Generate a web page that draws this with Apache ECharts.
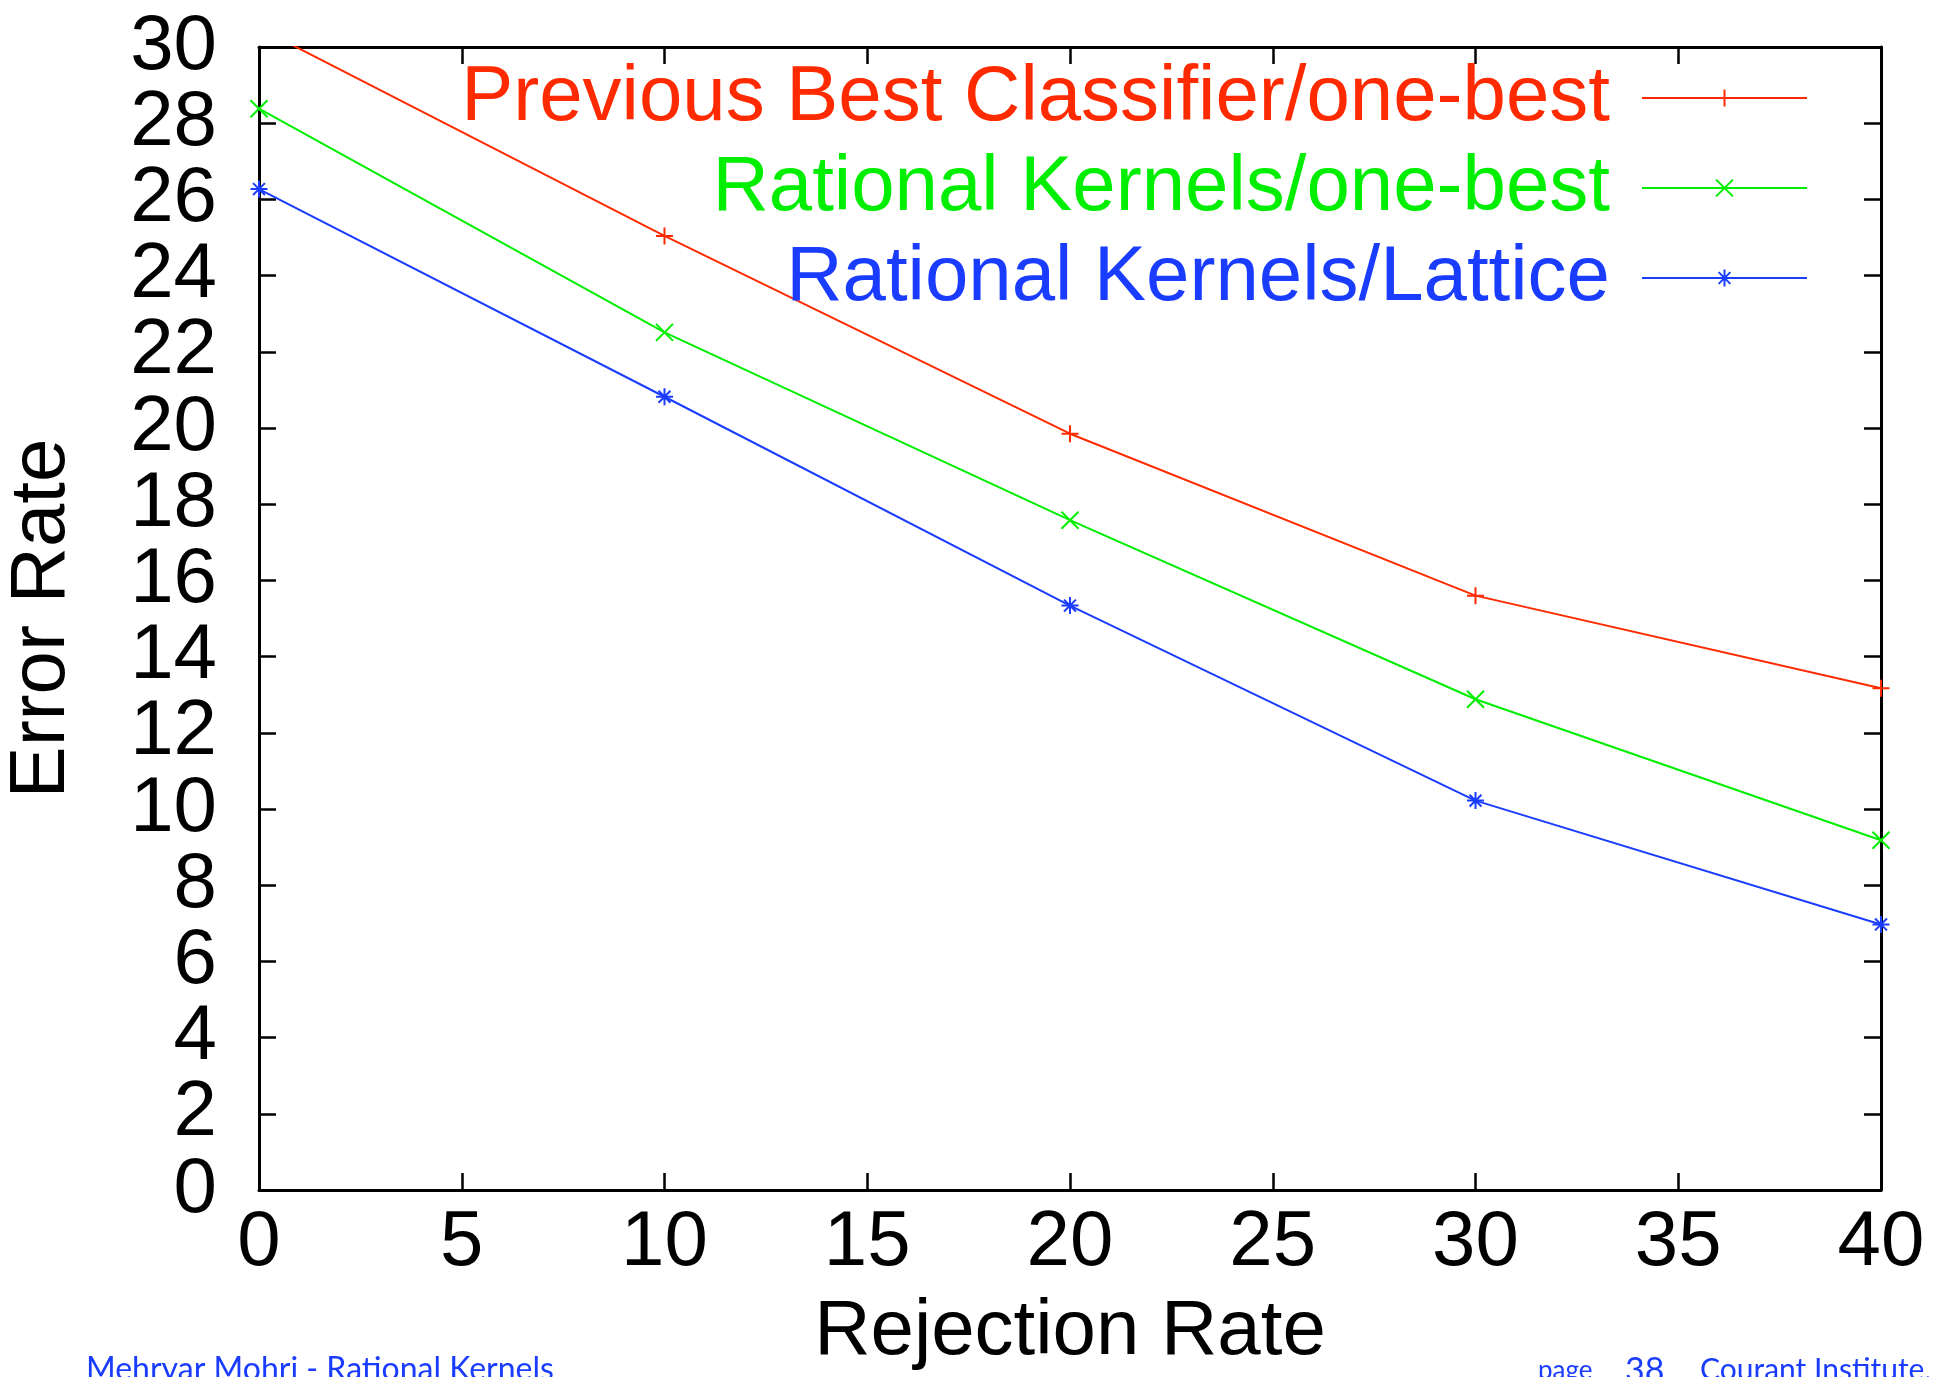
<!DOCTYPE html>
<html>
<head>
<meta charset="utf-8">
<script src="https://cdn.jsdelivr.net/npm/echarts@6/dist/echarts.min.js"></script>
<style>
html,body{margin:0;padding:0;background:#fff;}
#chart{width:1938px;height:1377px;}
</style>
</head>
<body>
<div id="chart"></div>
<script>
// ---- data ----
const rejectionRate = [0, 10, 20, 30, 40];
const prevBestOneBest = [30.5, 25.04, 19.85, 15.6, 13.17];
const rationalOneBest = [28.38, 22.51, 17.58, 12.88, 9.18];
const rationalLattice = [26.27, 20.82, 15.34, 10.22, 6.97];
const seriesNames = ['Previous Best Classifier/one-best', 'Rational Kernels/one-best', 'Rational Kernels/Lattice'];
const seriesColors = ['#ff2a00', '#00ee00', '#1a3cff'];
const xAxisTitle = 'Rejection Rate';
const yAxisTitle = 'Error Rate';
const footerLeft = 'Mehryar Mohri - Rational Kernels';
const footerPage = 'page';
const footerNum = '38';
const footerRight = 'Courant Institute,';

const FONT = '"Liberation Sans", Arial, Helvetica, sans-serif';
const FOOT_FONT = 'Lato, "Open Sans", sans-serif';
const plusPath = 'path://M0,5L10,5M5,0L5,10';
const crossPath = 'path://M0,0L10,10M0,10L10,0';
const starPath = 'path://M0,5L10,5M5,0L5,10M1.5,1.5L8.5,8.5M1.5,8.5L8.5,1.5';
const symbols = [plusPath, crossPath, starPath];
const allData = [prevBestOneBest, rationalOneBest, rationalLattice];

const chart = echarts.init(document.getElementById('chart'), null, {renderer: 'canvas'});

const axisLineStyle = {onZero: false, lineStyle: {color: '#000', width: 3}};
const tickStyle = {show: true, inside: true, length: 17, lineStyle: {color: '#000', width: 2.5}};
const yLabelStyle = {fontFamily: FONT, fontSize: 78, color: '#000', margin: 42};

const option = {
  backgroundColor: '#fff',
  animation: false,
  grid: {left: 259, right: 57, top: 47, bottom: 187, containLabel: false, outerBoundsMode: 'none'},
  legend: {
    orient: 'vertical',
    right: 125,
    top: 54,
    align: 'right',
    itemWidth: 165,
    itemHeight: 21,
    itemGap: 12,
    selectedMode: false,
    data: seriesNames.map((n, i) => ({
      name: n,
      textStyle: {color: seriesColors[i]}
    })),
    textStyle: {fontFamily: FONT, fontSize: 78, lineHeight: 77, padding: [0, 27, 0, 0]}
  },
  xAxis: [{
    type: 'value', min: 0, max: 40, interval: 5, position: 'bottom',
    name: xAxisTitle, nameLocation: 'middle', nameGap: 103,
    nameTextStyle: {fontFamily: FONT, fontSize: 78, color: '#000'},
    axisLine: axisLineStyle, axisTick: tickStyle, splitLine: {show: false},
    axisLabel: {fontFamily: FONT, fontSize: 78, color: '#000', margin: 14, showMinLabel: true, showMaxLabel: true}
  }, {
    type: 'value', min: 0, max: 40, interval: 5, position: 'top',
    axisLine: axisLineStyle, axisTick: tickStyle, splitLine: {show: false},
    axisLabel: {show: false}
  }],
  yAxis: [{
    // main left axis: line, ticks and the inner labels 2..28
    type: 'value', min: 0, max: 30, interval: 2, position: 'left',
    name: yAxisTitle, nameLocation: 'middle', nameGap: 178,
    nameTextStyle: {fontFamily: FONT, fontSize: 78, color: '#000'},
    axisLine: axisLineStyle, axisTick: tickStyle, splitLine: {show: false},
    axisLabel: Object.assign({showMinLabel: false, showMaxLabel: false}, yLabelStyle)
  }, {
    // mirrored right frame with ticks
    type: 'value', min: 0, max: 30, interval: 2, position: 'right',
    axisLine: axisLineStyle, axisTick: tickStyle, splitLine: {show: false},
    axisLabel: {show: false}
  }, {
    // second left axis carrying only the end labels 0 and 30
    type: 'value', min: 0, max: 30, interval: 30, position: 'left',
    axisLine: {show: false}, axisTick: {show: false}, splitLine: {show: false},
    axisLabel: Object.assign({showMinLabel: true, showMaxLabel: true}, yLabelStyle)
  }],
  series: allData.map((d, i) => ({
    name: seriesNames[i],
    type: 'line',
    xAxisIndex: 0,
    yAxisIndex: 0,
    clip: true,
    data: d.map((v, j) => [rejectionRate[j], v]),
    symbol: symbols[i],
    symbolSize: 17,
    showAllSymbol: true,
    lineStyle: {color: seriesColors[i], width: 2},
    itemStyle: {color: seriesColors[i], borderColor: seriesColors[i], borderWidth: 2},
    emphasis: {disabled: true}
  })),
  graphic: [
    {type: 'text', left: 86, top: 1354, style: {text: footerLeft, fontFamily: FOOT_FONT, fontSize: 32, fill: '#1a3cff'}},
    {type: 'text', left: 1538, top: 1358, style: {text: footerPage, fontFamily: FOOT_FONT, fontSize: 26, fill: '#1a3cff'}},
    {type: 'text', left: 1625, top: 1354, style: {text: footerNum, fontFamily: FOOT_FONT, fontSize: 34, fill: '#1a3cff'}},
    {type: 'text', left: 1700, top: 1355, style: {text: footerRight, fontFamily: FOOT_FONT, fontSize: 30, fill: '#1a3cff'}}
  ]
};
chart.setOption(option);
</script>
</body>
</html>
